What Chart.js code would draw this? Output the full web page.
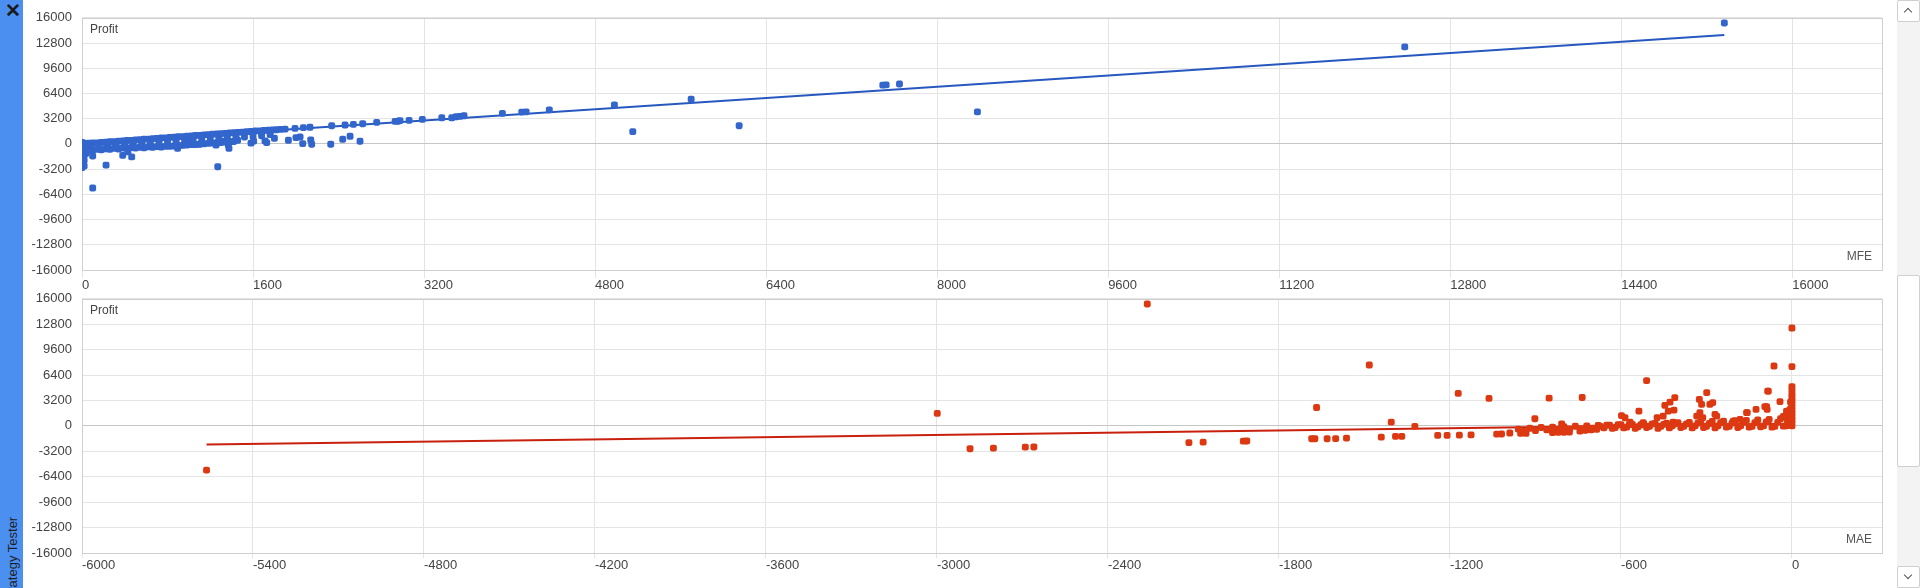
<!DOCTYPE html>
<html>
<head>
<meta charset="utf-8">
<title>MFE / MAE</title>
<script src="https://cdn.jsdelivr.net/npm/chart.js@4.4.1/dist/chart.umd.min.js"></script>
<style>
    html, body {
        margin: 0;
        padding: 0;
        width: 1920px;
        height: 588px;
        overflow: hidden;
        background: #ffffff;
        font-family: 'Liberation Sans', Arial, sans-serif;
    }
    #sidebar {
        position: absolute; left: 0; top: 0;
        width: 23px; height: 588px;
        background: #4b8ff0;
        overflow: hidden;
    }
    #close {
        position: absolute; left: 5px; top: -1px;
        font-size: 19px; font-weight: bold; color: #1a1a1a;
    }
    #tab-label {
        position: absolute; left: 5px; top: 604px;
        transform: rotate(-90deg); transform-origin: left top;
        white-space: nowrap; font-size: 13px; line-height: 15px; color: #1f1f1f;
    }
    .chart-box { position: absolute; left: 23px; width: 1874px; }
    #mfe-box { top: 0; height: 300px; }
    #mae-box { top: 281px; height: 307px; }
    #scroll {
        position: absolute; left: 1897px; top: 0;
        width: 23px; height: 588px; background: #f3f3f3;
    }
    .sb-btn, .sb-thumb {
        position: absolute; left: 0; width: 21px;
        background: #fff; border: 1px solid #d0d0d0; border-radius: 2px;
    }
    .sb-btn { height: 20px; }
    .sb-btn::after {
        content: ""; position: absolute; left: 7px;
        width: 5px; height: 5px;
        border-left: 1.5px solid #555; border-top: 1.5px solid #555;
    }
    #sb-up { top: 0; }
    #sb-up::after { top: 8px; transform: rotate(45deg); }
    #sb-down { top: 566px; }
    #sb-down::after { top: 5px; transform: rotate(225deg); }
    .sb-thumb { top: 275px; height: 190px; }
</style>
</head>
<body>

<div id="sidebar">
    <div id="close">&#x2715;</div>
    <div id="tab-label">Strategy Tester</div>
</div>

<div class="chart-box" id="mfe-box"><canvas id="mfe-chart"></canvas></div>
<div class="chart-box" id="mae-box"><canvas id="mae-chart"></canvas></div>

<div id="scroll">
    <div class="sb-btn" id="sb-up"></div>
    <div class="sb-thumb"></div>
    <div class="sb-btn" id="sb-down"></div>
</div>

<script>
//////////////////////
// Tick labels
//////////////////////
const mfeTicks = [0, 1600, 3200, 4800, 6400, 8000, 9600, 11200, 12800, 14400, 16000];
const maeTicks = [-6000, -5400, -4800, -4200, -3600, -3000, -2400, -1800, -1200, -600, 0];
const profitTicks = [-16000, -12800, -9600, -6400, -3200, 0, 3200, 6400, 9600, 12800, 16000];

//////////////////////
// MFE vs Profit (top chart)
//////////////////////
const mfeValues = [
    // column at zero
    0, 0, 0, 0, 0, 0, 0, 0, 0, 20, 20, 20, 20, 20, 20, 40, 40, 40, 50,
    // upper edge of the dense band
    60, 100, 140, 180, 220, 260, 300, 340, 380, 420, 460, 500, 540, 580, 620, 660,
    700, 740, 780, 820, 860, 900, 940, 980, 1020, 1060, 1100, 1140, 1180, 1220, 1260,
    1300, 1340, 1380, 1420, 1460, 1500, 1540, 1580, 1620, 1660, 1700, 1740, 1780,
    1820, 1860, 1900,
    // lower edge of the band
    60, 100, 140, 180, 220, 260, 300, 340, 380, 420, 460, 500, 540, 580, 620, 660,
    700, 740, 780, 820, 860, 900, 940, 980, 1020, 1060, 1100, 1140, 1180, 1220, 1260,
    1300, 1340, 1380, 1420,
    // middle of the band
    80, 160, 240, 320, 400, 480, 560, 640, 720, 800, 880, 960, 1040, 1120, 1200,
    1280, 1360, 1440, 1520, 1600, 1680, 1760,
    // scattered below the band
    100, 100, 225, 381, 465, 430, 894, 900, 1020, 1098, 1254, 1270, 1316, 1369, 1375,
    1456, 1581, 1606, 1712, 1728, 1800, 1931, 2002, 2040, 2065, 2140, 2149, 2327,
    2439, 2508, 2601,
    // along the trend and beyond
    1993, 2071, 2133, 2336, 2461, 2539, 2626, 2757, 2929, 2957, 2975, 3060, 3184,
    3366, 3459, 3500, 3537, 3574, 3933, 4114, 4155, 4372, 4981, 5153, 5699, 6148,
    7492, 7523, 7648, 8377, 12375, 15365
];
const mfeProfits = [
    200, -200, -600, -1000, -1400, -1800, -2200, -2600, -3000, 100, -400, -900, -1500, -2100, -2800, 0, -500, -1200, -700,
    80, 110, 130, 190, 210, 270, 290, 350, 370, 430, 450, 510, 530, 590, 610, 670,
    690, 750, 770, 830, 850, 910, 930, 990, 1010, 1070, 1090, 1150, 1170, 1230, 1250,
    1310, 1330, 1390, 1410, 1470, 1490, 1550, 1570, 1630, 1650, 1700, 1730, 1770,
    1800, 1840, 1880,
    -800, -780, -700, -760, -620, -680, -560, -640, -520, -600, -460, -540, -420, -500, -380, -440,
    -350, -400, -320, -300, -260, -220, -190, -150, -100, -70, -30, 10, 60, 100, 150,
    180, 230, 270, 310,
    -350, -300, -200, -150, -80, -20, 50, 100, 180, 220, 300, 360, 440, 500, 580,
    640, 720, 800, 880, 950, 1040, 1180,
    -1530, -5600, -2700, -1450, -1650, -1010, -560, -270, 360, -40, -150, -2900, 360, -160, -560,
    460, 100, 360, 378, 168, 714, 462, 798, 882, 42, 504, -42, -42,
    588, 966, 336,
    1974, 2060, 2110, 2310, 2394, 2478, 2562, 2730, 2860, 2880, 2950, 2986, 3112,
    3314, 3314, 3440, 3490, 3566, 3868, 4032, 4070, 4322, 4952, 1550, 5670, 2306,
    7460, 7490, 7600, 4070, 12310, 15340
];
const mfeTrendX = [0, 15365];
const mfeTrendY = [100, 13830];

//////////////////////
// MAE vs Profit (bottom chart)
//////////////////////
const maeValues = [
    // far left and middle outliers
    -5563, -2999, -2262, -2884, -2802, -2690, -2660, -2116, -2066, -1925, -1913,
    -1668, -1483, -1685, -1674, -1631, -1601, -1563, -1441, -1406, -1391, -1369, -1323,
    -1243, -1210, -1171, -1167, -1126, -1063, -1036, -1019, -952, -933, -902, -852,
    -840, -820, -800, -781, -808, -736, -744, -725, -705, -685,
    // spikes near zero
    0, -63, 0, 0, -85, -42, -89, -126, -157, -19, -510, -674, -598, -586, -568,
    -568, -537, -522, -473, -452, -446, -428, -411, -434, -414, -417, -325, -317,
    -299, -334, -323, -313, -288, -278, -270, -264, -159, -95, -83, -87, -7, -182, -206,
    // column at zero
    0, 0, 0, 0, 0, 0, 0, 0, 0, 0, 0, 0, -5, -10, -15,
    // dense band
    -990, -960, -940, -920, -900, -880, -860, -840, -820, -800, -780, -760, -740,
    -720, -700, -680, -660, -640, -620, -600, -580, -560, -540, -520, -500, -480,
    -460, -440, -420, -400, -380, -360, -340, -320, -300, -280, -260, -240, -220,
    -200, -180, -160, -140, -120, -100, -80, -60, -40, -30, -20, -10, -5,
    // middle of the band
    -650, -610, -570, -530, -490, -450, -410, -370, -330, -290, -250, -210, -170,
    -130, -90, -50, -15,
    // lower part of the band
    -630, -590, -550, -510, -470, -430, -390, -350, -310, -270, -230, -190, -150,
    -110, -70, -30
];
const maeProfits = [
    -5560, 1575, 15345, -2873, -2790, -2680, -2650, -2100, -2041, -1920, -1900,
    2310, 7660, -1613, -1613, -1613, -1600, -1537, -1411, 479, -1323, -1323, -63,
    -1197, -1197, 4095, -1159, -1126, 3465, -1033, -1019, -945, -933, 907, 3503,
    -840, -820, -800, -781, 250, 3578, -655, -550, -500, -441,
    12323, 7535, 7459, 4939, 4385, 3049, 2419, 2079, 1663, 1865, 5700, -25, 1300, 1033, 479,
    189, 1865, 403, 1033, 1235, 2583, 3000, 3553, 1865, 1991, 479, 3339, 2709,
    4183, 1235, 1663, 1033, 2709, 2923, 1449, 1235, 1663, 2419, 4385, 2079, 2079, 819, 605,
    4500, 4000, 3600, 3200, 2800, 2400, 2000, 1600, 1200, 800, 400, 0, 3000, 1400, 700,
    -900, -400, -700, -300, -600, -200, -500, -150, -450, -100, -400, -50, -350,
    0, -300, 50, -250, 100, -200, 150, -150, 200, -100, 250, -50, 300,
    -50, 350, 0, 400, -50, 450, 0, 500, -50, 550, 0, 600, -50,
    650, 0, 700, -50, 750, 0, 800, -50, 900, 1200, 0, 1000, 500,
    100, 150, 200, 150, 250, 200, 300, 250, 350, 300, 400, 350, 450,
    400, 500, 450, 600,
    -300, -250, -300, -200, -300, -250, -200, -250, -200, -250, -150, -200, -150,
    -100, -150, -30
];
const maeTrendX = [-5563, 0];
const maeTrendY = [-2340, 260];

//////////////////////
// Helpers
//////////////////////
function buildPoints(xs, ys) {
    if (xs.length !== ys.length) console.warn('length mismatch', xs.length, ys.length);
    return xs.map((x, i) => ({ x: x, y: ys[i] }));
}

const fontFamily = "'Liberation Sans', Arial, sans-serif";
const tickFont = { family: fontFamily, size: 13 };

// zero line of the profit axis is a bit darker
function profitGridColor(ctx) {
    return ctx.tick && ctx.tick.value === 0 ? '#c6c6c6' : '#e4e4e4';
}

// plot frame plus the "Profit" / "MFE" captions inside the plot area
const frameAndCaptions = {
    id: 'frameAndCaptions',
    beforeDatasetsDraw(chart, args, opts) {
        const a = chart.chartArea;
        const ctx = chart.ctx;
        ctx.save();
        ctx.strokeStyle = '#cfcfcf';
        ctx.lineWidth = 1;
        ctx.strokeRect(Math.round(a.left) + 0.5, Math.round(a.top) + 0.5,
            Math.round(a.right - a.left), Math.round(a.bottom - a.top));
        ctx.font = '12px ' + fontFamily;
        ctx.fillStyle = '#444';
        ctx.textBaseline = 'middle';
        ctx.textAlign = 'left';
        ctx.fillText(opts.yTitle, a.left + 8, a.top + 12);
        ctx.fillStyle = '#555';
        ctx.textAlign = 'right';
        ctx.fillText(opts.xTitle, a.right - 10, a.bottom - 13);
        ctx.restore();
    }
};

//////////////////////
// Build one scatter chart with its trend line
//////////////////////
function drawScatter(canvasId, cfg) {
    const ctx = document.getElementById(canvasId).getContext('2d');
    return new Chart(ctx, {
        type: 'scatter',
        data: {
            datasets: [{
                data: buildPoints(cfg.xs, cfg.ys),
                backgroundColor: cfg.pointColor,
                borderWidth: 0,
                pointBorderWidth: 0,
                pointStyle: 'rectRounded',
                pointRadius: 4,
                order: 0
            }, {
                type: 'line',
                data: buildPoints(cfg.trendX, cfg.trendY),
                borderColor: cfg.lineColor,
                borderWidth: 2,
                pointRadius: 0,
                fill: false,
                order: 1
            }]
        },
        options: {
            responsive: true,
            maintainAspectRatio: false,
            animation: false,
            events: [],
            layout: { padding: { left: 0, right: 15, top: 16, bottom: 0 } },
            plugins: {
                legend: { display: false },
                tooltip: { enabled: false },
                frameAndCaptions: { yTitle: 'Profit', xTitle: cfg.xTitle }
            },
            scales: {
                x: {
                    type: 'linear',
                    min: cfg.xMin,
                    max: cfg.xMax,
                    afterBuildTicks: s => { s.ticks = cfg.xTicks.map(v => ({ value: v })); },
                    afterFit: s => { s.height = cfg.xAxisHeight; },
                    grid: { color: '#e4e4e4', tickLength: cfg.tickLength },
                    border: { display: false },
                    ticks: {
                        align: 'start', padding: 0, maxRotation: 0, autoSkip: false,
                        color: '#444', font: tickFont, callback: v => String(v)
                    }
                },
                y: {
                    type: 'linear',
                    min: -16000,
                    max: 16000,
                    afterBuildTicks: s => { s.ticks = profitTicks.map(v => ({ value: v })); },
                    afterFit: s => { s.width = 59; },
                    grid: { color: profitGridColor, drawTicks: false },
                    border: { display: false },
                    ticks: {
                        padding: 10, autoSkip: false,
                        color: '#444', font: tickFont, callback: v => String(v)
                    }
                }
            }
        },
        plugins: [frameAndCaptions]
    });
}

//////////////////////
// Initialize
//////////////////////
drawScatter('mfe-chart', {
    xs: mfeValues, ys: mfeProfits,
    trendX: mfeTrendX, trendY: mfeTrendY,
    xTicks: mfeTicks, xMin: 0, xMax: 16840,
    xTitle: 'MFE',
    pointColor: '#3366cc', lineColor: '#2758c0',
    xAxisHeight: 30, tickLength: 8
});

drawScatter('mae-chart', {
    xs: maeValues, ys: maeProfits,
    trendX: maeTrendX, trendY: maeTrendY,
    xTicks: maeTicks, xMin: -6000, xMax: 316,
    xTitle: 'MAE',
    pointColor: '#dc3912', lineColor: '#c8200c',
    xAxisHeight: 35, tickLength: 5
});
</script>
</body>
</html>
